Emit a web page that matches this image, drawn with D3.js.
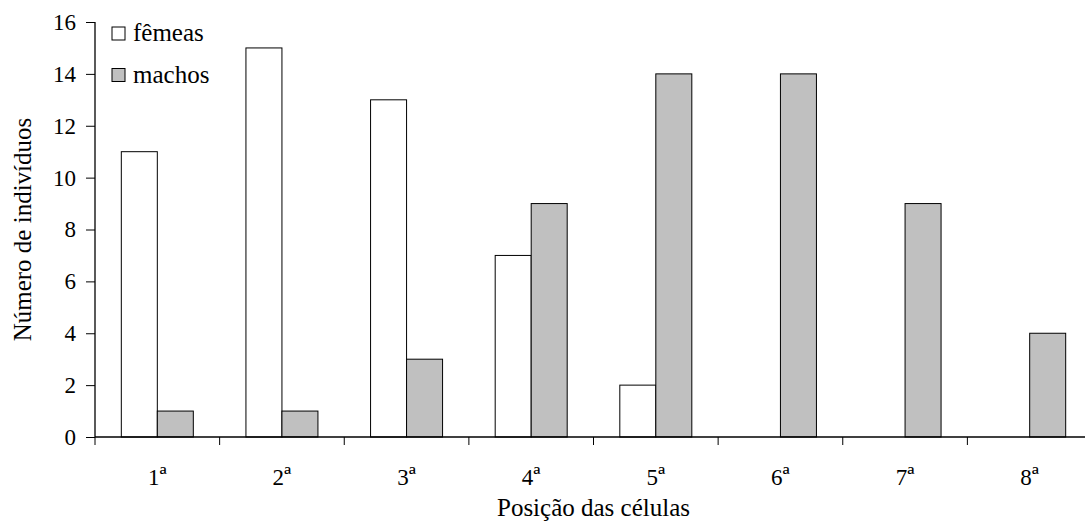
<!DOCTYPE html>
<html>
<head>
<meta charset="utf-8">
<script src="https://cdn.jsdelivr.net/npm/d3@7"></script>
<style>
  body { margin: 0; background: #fff; }
  text { font-family: "Liberation Serif", "Times New Roman", serif; fill: #000; }
</style>
</head>
<body>
<div id="main"></div>
<script>
var categories = ["1ª", "2ª", "3ª", "4ª", "5ª", "6ª", "7ª", "8ª"];
var femeas = [11, 15, 13, 7, 2, 0, 0, 0];
var machos = [1, 1, 3, 9, 14, 14, 9, 4];
var series_names = ["fêmeas", "machos"];
var y_ticks = [0, 2, 4, 6, 8, 10, 12, 14, 16];

var fills = {"fêmeas": "#ffffff", "machos": "#c0c0c0"};

var width = 1085, height = 527;
var m = {left: 95, right: 1092, top: 22, bottom: 437};
var serif = '"Liberation Serif", "Times New Roman", serif';

var svg = d3.select('#main').append('svg')
  .attr('width', width)
  .attr('height', height);

var x = d3.scaleBand().domain(categories).range([m.left, m.right]).paddingInner(0).paddingOuter(0);
var y = d3.scaleLinear().domain([0, 16]).range([m.bottom, m.top]);

var bar_width = 36;

var rows = categories.map(function(c, i) {
  return [
    {cat: c, name: "fêmeas", value: femeas[i], k: 0},
    {cat: c, name: "machos", value: machos[i], k: 1}
  ];
});

var groups = svg.selectAll('g.cat').data(rows).enter().append('g')
  .attr('class', 'cat')
  .attr('transform', function(d) {
    return 'translate(' + (x(d[0].cat) + x.bandwidth() / 2 - bar_width) + ',0)';
  });

groups.selectAll('rect')
  .data(function(d) { return d.filter(function(b) { return b.value > 0; }); })
  .enter().append('rect')
  .attr('x', function(d) { return d.k * bar_width; })
  .attr('y', function(d) { return y(d.value); })
  .attr('width', bar_width)
  .attr('height', function(d) { return m.bottom - y(d.value); })
  .attr('fill', function(d) { return fills[d.name]; })
  .attr('stroke', '#000')
  .attr('stroke-width', 1);

// y axis
var yAxis = svg.append('g')
  .attr('transform', 'translate(' + m.left + ',0)')
  .call(d3.axisLeft(y).tickValues(y_ticks).tickSize(9).tickPadding(10).tickFormat(d3.format('d')));

// x axis, ticks at band edges
var xAxis = svg.append('g')
  .attr('transform', 'translate(0,' + m.bottom + ')')
  .call(d3.axisBottom(x).tickSize(0).tickPadding(32));

xAxis.selectAll('.tick-edge')
  .data(categories).enter().append('line')
  .attr('x1', function(d) { return x(d); })
  .attr('x2', function(d) { return x(d); })
  .attr('y1', 0).attr('y2', 8)
  .attr('stroke', '#000');

[yAxis, xAxis].forEach(function(a) {
  a.attr('font-family', serif).attr('font-size', 23);
  a.select('.domain').attr('stroke', '#000').attr('stroke-width', 1.3);
  a.selectAll('.tick line').attr('stroke', '#000');
  a.selectAll('text').attr('fill', '#000');
});
yAxis.select('.domain').attr('d', 'M0,' + m.top + 'V' + m.bottom);
xAxis.select('.domain').attr('d', 'M' + m.left + ',0H' + m.right);

// bigger ordinal indicator, as in the original
xAxis.selectAll('.tick text').each(function(d) {
  var t = d3.select(this).text('');
  t.append('tspan').text(d.slice(0, -1));
  t.append('tspan').attr('font-size', 26).text(d.slice(-1));
});

// axis titles
svg.append('text')
  .attr('x', (m.left + m.right) / 2)
  .attr('y', 516)
  .attr('text-anchor', 'middle')
  .style('font-size', '25px')
  .text('Posição das células');

svg.append('text')
  .attr('transform', 'translate(31,' + ((m.top + m.bottom) / 2) + ') rotate(-90)')
  .attr('text-anchor', 'middle')
  .style('font-size', '25px')
  .text('Número de indivíduos');

// legend
var legend = svg.selectAll('g.legend').data(series_names).enter().append('g')
  .attr('class', 'legend')
  .attr('transform', function(d, i) { return 'translate(112,' + (27 + i * 41.5) + ')'; });

legend.append('rect')
  .attr('width', 13).attr('height', 13)
  .attr('fill', function(d) { return fills[d]; })
  .attr('stroke', '#000');

legend.append('text')
  .attr('x', 21).attr('y', 14)
  .style('font-size', '25px')
  .text(function(d) { return d; });
</script>
</body>
</html>
